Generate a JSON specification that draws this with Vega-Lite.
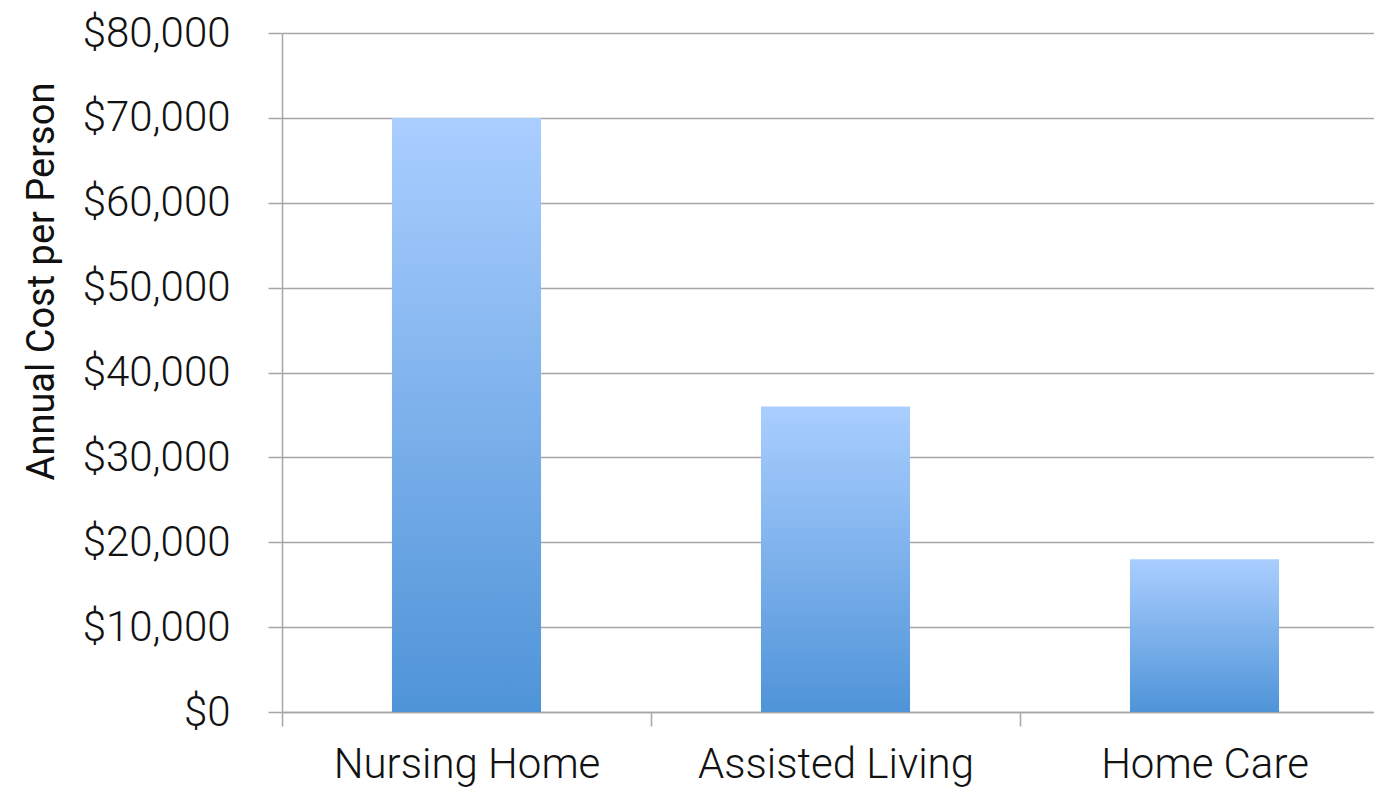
{
  "$schema": "https://vega.github.io/schema/vega-lite/v6.json",
  "autosize": "none",
  "width": 1092,
  "height": 679,
  "padding": {"left": 282, "top": 33, "right": 0, "bottom": 78},
  "background": "white",
  "config": {
    "view": {"stroke": null},
    "font": "Roboto"
  },
  "data": {
    "values": [
      {"setting": "Nursing Home", "cost": 70000},
      {"setting": "Assisted Living", "cost": 36000},
      {"setting": "Home Care", "cost": 18000}
    ]
  },
  "mark": {
    "type": "bar",
    "width": {"band": 0.404},
    "color": {
      "gradient": "linear",
      "x1": 0, "y1": 0, "x2": 0, "y2": 1,
      "stops": [
        {"offset": 0, "color": "#aaceff"},
        {"offset": 1, "color": "#4f94d8"}
      ]
    }
  },
  "encoding": {
    "x": {
      "field": "setting",
      "type": "nominal",
      "sort": null,
      "scale": {"range": [0, 1107], "paddingInner": 0, "paddingOuter": 0},
      "axis": {
        "title": null,
        "labelAngle": 0,
        "labelLimit": 0,
        "labelFont": "Roboto",
        "labelFontWeight": 300,
        "labelFontSize": 42,
        "labelColor": "#111111",
        "labelPadding": 18,
        "tickBand": "extent",
        "tickSize": 14,
        "tickColor": "#a6a6a6",
        "tickWidth": 1.5,
        "domainColor": "#a6a6a6",
        "domainWidth": 1.5,
        "grid": false
      }
    },
    "y": {
      "field": "cost",
      "type": "quantitative",
      "scale": {"domain": [0, 80000], "nice": false},
      "axis": {
        "title": "Annual Cost per Person",
        "titleFont": "Roboto",
        "titleFontWeight": 400,
        "titleFontSize": 38,
        "titleColor": "#111111",
        "titleX": -229,
        "titleY": 248,
        "titleAlign": "center",
        "titleBaseline": "alphabetic",
        "titleAngle": -90,
        "values": [0, 10000, 20000, 30000, 40000, 50000, 60000, 70000, 80000],
        "format": "$,.0f",
        "labelFont": "Roboto",
        "labelFontWeight": 300,
        "labelFontSize": 42,
        "labelLimit": 0,
        "labelColor": "#111111",
        "labelPadding": 38,
        "tickSize": 14,
        "tickColor": "#a6a6a6",
        "tickWidth": 1.5,
        "domainColor": "#a6a6a6",
        "domainWidth": 1.5,
        "grid": true,
        "gridColor": "#a6a6a6",
        "gridWidth": 1.5,
        "gridOpacity": 1
      }
    }
  }
}
